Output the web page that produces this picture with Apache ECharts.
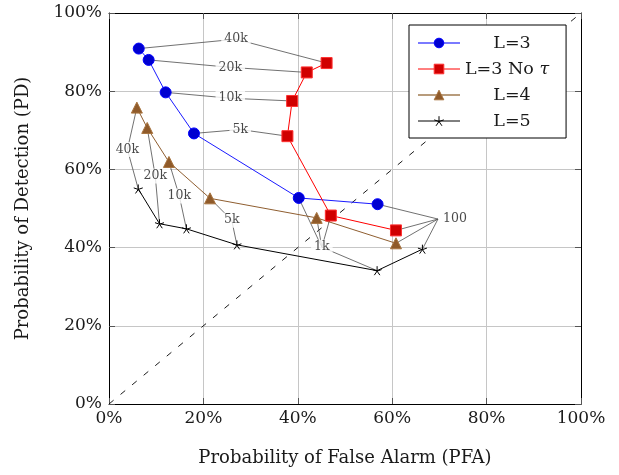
<!DOCTYPE html>
<html>
<head>
<meta charset="utf-8">
<script src="https://cdn.jsdelivr.net/npm/echarts@6/dist/echarts.min.js"></script>
<style>
  html, body { margin: 0; padding: 0; background: #fff; }
  #chart { width: 619px; height: 475px; }
</style>
</head>
<body>
<div id="chart"></div>
<script>
// ROC points (PFA %, PD %) per configuration, ordered 40k, 20k, 10k, 5k, 1k, 100
var seriesNames = ['L=3', 'L=3 No \u03c4', 'L=4', 'L=5'];
var pfaL3   = [6.3, 8.4, 12.0, 18.0, 40.2, 56.9];
var pdL3    = [90.9, 88.0, 79.7, 69.2, 52.7, 51.1];
var pfaL3n  = [46.1, 41.9, 38.8, 37.8, 47.0, 60.8];
var pdL3n   = [87.2, 84.8, 77.5, 68.5, 48.2, 44.4];
var pfaL4   = [5.9, 8.1, 12.7, 21.4, 44.0, 60.8];
var pdL4    = [75.8, 70.6, 61.9, 52.6, 47.6, 41.1];
var pfaL5   = [6.2, 10.7, 16.4, 27.1, 56.8, 66.4];
var pdL5    = [55.0, 46.1, 44.8, 40.7, 34.1, 39.6];
var axisTicks = [0, 20, 40, 60, 80, 100];

// annotation labels: text, anchor (data units), which series / point index they point to
var noteText   = ['40k', '20k', '10k', '5k', '40k', '20k', '10k', '5k', '1k', '100'];
var noteX      = [26.9, 25.7, 25.7, 27.8, 3.9, 9.8, 14.9, 26.0, 45.1, 69.7];
var noteY      = [93.3, 86.1, 78.2, 70.2, 65.1, 58.3, 53.2, 47.0, 40.1, 47.3];
var noteSeries = [[0, 1], [0, 1], [0, 1], [0, 1], [2, 3], [2, 3], [2, 3], [2, 3], [0, 1, 2, 3], [0, 1, 2, 3]];
var notePoint  = [0, 1, 2, 3, 0, 1, 2, 3, 4, 5];

(function(){
  var el = document.getElementById('chart');
  var c = echarts.init(el);
  var font = 'DejaVu Serif';
  var txt = '#1a1a1a';
  var gridCol = '#c6c6c6';
  var tickCol = '#555';

  var xs = [pfaL3, pfaL3n, pfaL4, pfaL5];
  var ys = [pdL3, pdL3n, pdL4, pdL5];
  function pts(i){ return xs[i].map(function(v, k){ return [v, ys[i][k]]; }); }

  var star = 'path://M0,-10L0,0M0,0L9.51,-3.09M0,0L5.88,8.09M0,0L-5.88,8.09M0,0L-9.51,-3.09';
  var looks = [
    {line:'#1a1aff', fill:'#0000d0', border:'#0000ff', symbol:'circle', size:11, legLine:'#7a7aff', legW:2},
    {line:'#ff0000', fill:'#d00000', border:'#ff3030', symbol:'rect', size:11, legLine:'#ff0000', legW:1},
    {line:'#8f5e30', fill:'#8f5a2a', border:'#a8743f', symbol:'triangle', size:11, legLine:'#b89c7c', legW:2},
    {line:'#000000', fill:'#000000', border:'#000000', symbol:star, size:9, legLine:'#000000', legW:1}
  ];

  var series = [];

  // diagonal chance line
  series.push({type:'line', data:[[axisTicks[0], axisTicks[0]], [axisTicks[5], axisTicks[5]]],
    showSymbol:false, silent:true, z:1,
    lineStyle:{color:'#000', width:0.9, type:[6, 9]}});

  // annotation leader lines
  noteText.forEach(function(t, n){
    noteSeries[n].forEach(function(si){
      var p = [xs[si][notePoint[n]], ys[si][notePoint[n]]];
      series.push({type:'line', data:[p, [noteX[n], noteY[n]]], showSymbol:false, silent:true, z:2,
        lineStyle:{color:'#4d4d4d', width:0.8}});
    });
  });

  // annotation labels
  series.push({type:'scatter', silent:true, z:4, symbolSize:0,
    data:noteText.map(function(t, n){
      var isRight = t === '100';
      return {value:[noteX[n], noteY[n]], name:t,
        label:{show:true, position:isRight ? 'right' : 'inside', distance:2,
          formatter:t, color:txt, fontFamily:font, fontSize:12.5,
          backgroundColor:isRight ? 'transparent' : '#fff', padding:[1, 3]}};
    })});

  // data series
  seriesNames.forEach(function(name, i){
    var L = looks[i];
    series.push({type:'line', name:name, data:pts(i), z:6,
      symbol:L.symbol, symbolSize:L.size, showSymbol:true,
      lineStyle:{color:L.line, width:1},
      itemStyle:{color:L.fill, borderColor:L.border, borderWidth:1}});
  });

  var legendData = seriesNames.map(function(name, i){
    var L = looks[i];
    return {name:name, lineStyle:{color:L.legLine, width:L.legW},
      itemStyle:{color:L.fill, borderColor:L.border, borderWidth:1}};
  });

  function axis(pos, withLabels){
    var horiz = pos === 'bottom' || pos === 'top';
    return {type:'value', position:pos, min:axisTicks[0], max:axisTicks[5], interval:20,
      axisLine:{show:true, onZero:false, lineStyle:{color:'#000', width:1}},
      axisTick:{show:true, inside:true, length:6, lineStyle:{color:tickCol}},
      splitLine:{show:withLabels, lineStyle:{color:gridCol, width:1}},
      axisLabel:{show:withLabels, formatter:'{value}%', color:txt, fontFamily:font, fontSize:17,
        margin:horiz ? 6 : 7},
      name:withLabels ? (horiz ? 'Probability of False Alarm (PFA)' : 'Probability of Detection (PD)') : '',
      nameLocation:'middle', nameGap:horiz ? 45 : 77,
      nameTextStyle:{color:txt, fontFamily:font, fontSize:18}};
  }

  var legFont = 17.5;
  c.setOption({
    animation:false,
    backgroundColor:'#fff',
    grid:{left:109, right:38, top:13, bottom:71},
    xAxis:[axis('bottom', true), axis('top', false)],
    yAxis:[axis('left', true), axis('right', false)],
    legend:{orient:'vertical', left:409, top:25, padding:[9, 17, 8, 8],
      borderColor:'#000', borderWidth:1, borderRadius:0, backgroundColor:'#fff',
      itemWidth:42, itemHeight:12, itemGap:8, selectedMode:false,
      data:legendData,
      formatter:function(name){
        if (name.indexOf('No') >= 0) return '{a|L=3 No }{t|\u03c4}';
        return '{c|' + name + '}';
      },
      textStyle:{color:txt, fontFamily:font, fontSize:legFont,
        rich:{c:{width:94, align:'center', fontFamily:font, fontSize:legFont, color:txt},
              a:{fontFamily:font, fontSize:legFont, color:txt},
              t:{fontFamily:font, fontSize:legFont, fontStyle:'italic', color:txt}}}},
    series:series
  });

  window.addEventListener('resize', function(){ c.resize(); });
})();
</script>
</body>
</html>
